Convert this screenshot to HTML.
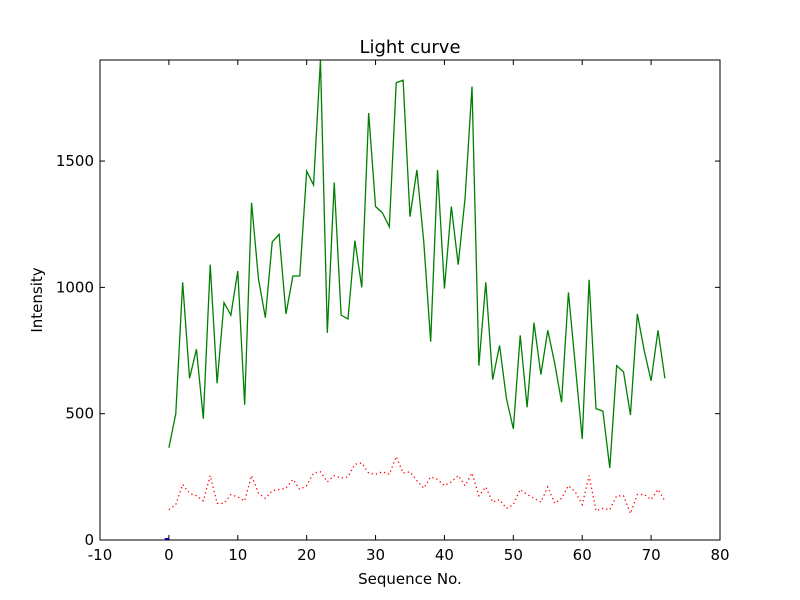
<!DOCTYPE html>
<html><head><meta charset="utf-8"><style>body{margin:0;background:#fff}svg{display:block}text{font-family:"DejaVu Sans","Liberation Sans",sans-serif;fill:#000}</style></head>
<body>
<svg id="c" width="800" height="600"></svg>
<script>
const seqNo=[];for(let i=0;i<=72;i++)seqNo.push(i);
const intensity=[365,500,1020,640,755,480,1090,620,940,890,1065,535,1335,1035,880,1180,1210,895,1045,1045,1460,1405,1900,820,1415,890,875,1185,1000,1690,1320,1295,1240,1810,1820,1280,1465,1180,785,1465,995,1320,1090,1355,1795,690,1020,635,770,560,440,810,525,860,655,830,700,545,980,690,400,1030,520,510,285,690,665,495,895,750,630,830,640];
const background=[120,140,220,185,175,155,255,145,145,180,170,155,255,185,165,195,200,205,240,200,215,265,270,230,255,245,250,300,305,265,260,270,260,330,265,270,235,205,250,240,215,230,255,215,265,175,210,150,160,125,140,200,180,165,150,210,145,165,215,190,140,255,115,125,120,175,175,105,180,180,160,200,155];
const xTicks=[-10,0,10,20,30,40,50,60,70,80];
const yTicks=[0,500,1000,1500];
const L=100,R=720,T=60,B=540,xMin=-10,xMax=80,yMin=0,yMax=1900;
const X=v=>L+(v-xMin)/(xMax-xMin)*(R-L);
const Y=v=>B-(v-yMin)/(yMax-yMin)*(B-T);
const svg=document.getElementById('c');const NS='http://www.w3.org/2000/svg';
function mk(t,a,p){const e=document.createElementNS(NS,t);for(const k in a)e.setAttribute(k,a[k]);(p||svg).appendChild(e);return e;}
const clip=mk('clipPath',{id:'cp'});mk('rect',{x:L,y:T,width:R-L,height:B-T},clip);
const g1=mk('polyline',{points:seqNo.map((s,i)=>X(s)+','+Y(intensity[i])).join(' '),fill:'none',stroke:'#008000','stroke-width':1.3,'clip-path':'url(#cp)'});


const g2=mk('polyline',{points:seqNo.map((s,i)=>X(s)+','+Y(background[i])).join(' '),fill:'none',stroke:'#ff0000','stroke-width':1.3,'stroke-dasharray':'1.3,3','clip-path':'url(#cp)'});


const bm=mk('line',{x1:X(-0.6),x2:X(0),y1:B-1,y2:B-1,stroke:'#0000ff','stroke-width':2});


const fr=mk('rect',{x:L,y:T,width:R-L,height:B-T,fill:'none',stroke:'#000','stroke-width':1});


xTicks.forEach(v=>{const x=X(v);
mk('line',{x1:x,x2:x,y1:B,y2:B-5,stroke:'#000'});mk('line',{x1:x,x2:x,y1:T,y2:T+5,stroke:'#000'});
const t=mk('text',{x:x,y:B+20,'text-anchor':'middle','font-size':15});t.textContent=v;

});
yTicks.forEach(v=>{const y=Y(v);
mk('line',{x1:L,x2:L+5,y1:y,y2:y,stroke:'#000'});mk('line',{x1:R,x2:R-5,y1:y,y2:y,stroke:'#000'});
const t=mk('text',{x:L-6,y:y+5,'text-anchor':'end','font-size':15});t.textContent=v;

});
const ti=mk('text',{x:410,y:53,'text-anchor':'middle','font-size':18});ti.textContent='Light curve';


const xt=mk('text',{x:410,y:584,'text-anchor':'middle','font-size':15});xt.textContent='Sequence No.';


const yt=mk('text',{x:42,y:300,'text-anchor':'middle','font-size':15,transform:'rotate(-90 42 300)'});yt.textContent='Intensity';


</script>
</body></html>
